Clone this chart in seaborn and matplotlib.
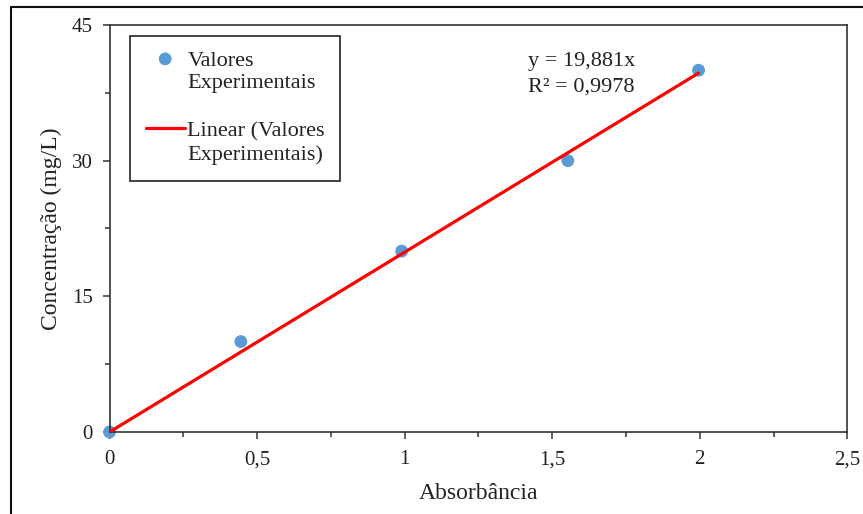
import matplotlib
matplotlib.use("Agg")
import matplotlib.pyplot as plt
from matplotlib.lines import Line2D
from matplotlib.legend_handler import HandlerLine2D
from matplotlib.ticker import FuncFormatter, MultipleLocator
import numpy as np
import pandas as pd
import seaborn as sns

# Calibration data: absorbance readings vs. known concentration
absorbancia = [0.0, 0.445, 0.99, 1.553, 1.996]
concentracao = [0, 10, 20, 30, 40]

# Linear trend through the origin
slope = 19.881
r2 = 0.9978

x_ticks = [0, 0.5, 1, 1.5, 2, 2.5]
y_ticks = [0, 15, 30, 45]


class FirstLineHandler(HandlerLine2D):
    """Line handle aligned with the first line of a two-line label."""

    def __init__(self, lift, **kw):
        super().__init__(**kw)
        self.lift = lift

    def create_artists(self, legend, orig_handle, xdescent, ydescent,
                       width, height, fontsize, trans):
        return super().create_artists(legend, orig_handle, xdescent,
                                      ydescent - 2 * self.lift, width, height,
                                      fontsize, trans)


sns.set_theme(style="white")
plt.rcParams["font.family"] = ["Liberation Serif", "DejaVu Serif"]

df = pd.DataFrame({"Absorbância": absorbancia, "Concentração": concentracao})
x_fit = np.array([0.0, max(absorbancia)])
fit = pd.DataFrame({"x": x_fit, "y": slope * x_fit})

fig = plt.figure(figsize=(8.63, 5.14), dpi=100)
ax = fig.add_axes([0.1269, 0.1595, 0.9818 - 0.1269, 0.9514 - 0.1595])

sns.lineplot(data=fit, x="x", y="y", ax=ax, color="#FF0000", linewidth=2.3,
             label="Linear (Valores\nExperimentais)", zorder=3)
sns.scatterplot(data=df, x="Absorbância", y="Concentração", ax=ax,
                color="#5B9BD5", s=85, edgecolor="none",
                label="Valores\nExperimentais", zorder=2, clip_on=False)

ax.set_xlim(0, 2.5)
ax.set_ylim(0, 45)
ax.set_xticks(x_ticks)
ax.set_yticks(y_ticks)
ax.xaxis.set_minor_locator(MultipleLocator(0.25))
ax.yaxis.set_minor_locator(MultipleLocator(7.5))
comma = FuncFormatter(lambda v, p: (f"{v:g}").replace(".", ","))
ax.xaxis.set_major_formatter(comma)
ax.yaxis.set_major_formatter(comma)

ax.tick_params(which="major", direction="out", length=5, width=1.1,
               color="#333333", labelsize=15, labelcolor="#222222",
               bottom=True, left=True)
ax.tick_params(axis="x", which="major", pad=8)
ax.tick_params(axis="y", which="major", pad=7)
ax.tick_params(which="minor", direction="out", length=3.5, width=1.1,
               color="#333333", bottom=True, left=True)

for sp in ax.spines.values():
    sp.set_color("#333333")
    sp.set_linewidth(1.2)

ax.set_xlabel("Absorbância", fontsize=17, color="#222222", labelpad=10)
ax.set_ylabel("Concentração (mg/L)", fontsize=17, color="#222222", labelpad=7)

ax.text(1.419, 40.5, f"y = {slope:.3f}x".replace(".", ","), fontsize=16,
        color="#222222", va="baseline")
ax.text(1.419, 37.6, "R² = " + f"{r2:.4f}".replace(".", ","), fontsize=16,
        color="#222222", va="baseline")

handles, labels = ax.get_legend_handles_labels()
order = [labels.index("Valores\nExperimentais"),
         labels.index("Linear (Valores\nExperimentais)")]
line_handle = handles[order[1]]
leg = ax.legend([handles[i] for i in order], [labels[i] for i in order],
                loc="upper left", bbox_to_anchor=(0.028, 0.973), borderaxespad=0,
                fancybox=False, edgecolor="#222222", framealpha=1,
                fontsize=16, handlelength=1.75, handletextpad=0.12,
                labelspacing=1.3, borderpad=0.7,
                scatterpoints=1, scatteryoffsets=[1.32],
                handler_map={line_handle: FirstLineHandler(lift=10.5)})
leg.get_frame().set_linewidth(1.2)
for t in leg.get_texts():
    t.set_color("#222222")
    t.set_linespacing(1.27)

# Outer frame around the chart region
fig.add_artist(Line2D([11 / 863, 1.0], [1 - 7 / 514, 1 - 7 / 514],
                      transform=fig.transFigure, color="#111111", linewidth=1.5))
fig.add_artist(Line2D([11 / 863, 11 / 863], [0.0, 1 - 7 / 514],
                      transform=fig.transFigure, color="#111111", linewidth=1.5))

fig.savefig("out.png", dpi=100)
